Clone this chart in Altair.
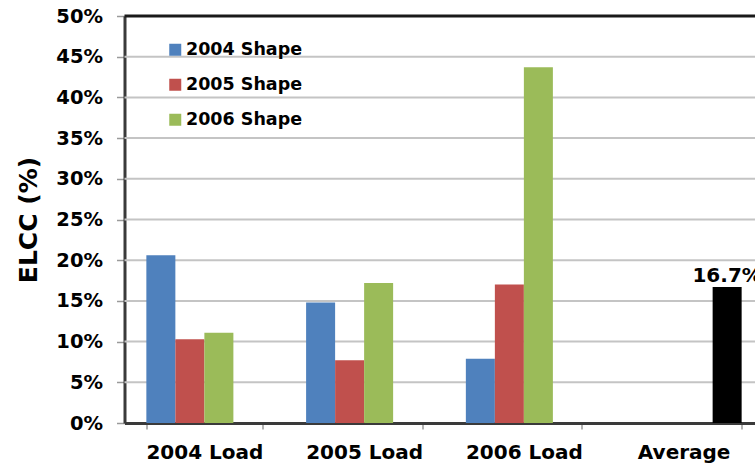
import altair as alt
import pandas as pd

# Categories and series
loads = ["2004 Load", "2005 Load", "2006 Load"]
shapes = ["2004 Shape", "2005 Shape", "2006 Shape"]
shape_2004 = [20.6, 14.8, 7.9]
shape_2005 = [10.3, 7.7, 17.0]
shape_2006 = [11.1, 17.2, 43.7]
average_value = 16.7
categories = loads + ["Average"]
series = shapes + ["Average"]
colors = ["#4F81BD", "#C0504D", "#9BBB59", "#000000"]
y_ticks = [0, 5, 10, 15, 20, 25, 30, 35, 40, 45, 50]

rows = []
for shape, vals in zip(shapes, [shape_2004, shape_2005, shape_2006]):
    for load, v in zip(loads, vals):
        rows.append({"load": load, "series": shape, "elcc": v})
rows.append({"load": "Average", "series": "Average", "elcc": average_value})
df = pd.DataFrame(rows)

FONT = "DejaVu Sans"

x_scale = alt.Scale(domain=categories, range=[0, 639],
                    paddingInner=0.2736, paddingOuter=0.1368)
xoff_scale = alt.Scale(domain=series, paddingInner=0, paddingOuter=0)
y_scale = alt.Scale(domain=[0, 50], nice=False)

y_axis = alt.Axis(
    title="ELCC (%)", titleFont=FONT, titleFontSize=25, titleFontWeight="bold",
    titleColor="#000000", titlePadding=14,
    values=y_ticks, labelExpr="datum.value + '%'",
    labelFont=FONT, labelFontSize=19.5, labelFontWeight="bold",
    labelColor="#000000", labelPadding=14,
    domainColor="#3a3a3a", domainWidth=3,
    tickColor="#9a9a9a", tickWidth=1.5, tickSize=8,
    grid=False,
)

# horizontal gridlines at each 5% step (the 50% one is the dark top border)
grid = alt.Chart(pd.DataFrame({"v": y_ticks[1:-1]})).mark_rule(
    color="#c4c4c4", strokeWidth=2
).encode(y=alt.Y("v:Q", scale=y_scale, axis=y_axis))

x_enc = alt.X(
    "load:N",
    sort=categories,
    scale=x_scale,
    axis=alt.Axis(
        title=None, labelFont=FONT, labelFontSize=20, labelFontWeight="bold",
        labelColor="#000000", labelPadding=13, labelAngle=0,
        domainColor="#3a3a3a", domainWidth=3, tickColor="#9a9a9a",
        tickWidth=1.5, tickSize=6, tickBand="extent", grid=False,
    ),
)
xoff_enc = alt.XOffset("series:N", sort=series, scale=xoff_scale)

bars = alt.Chart(df).mark_bar().encode(
    x=x_enc,
    xOffset=xoff_enc,
    y=alt.Y("elcc:Q", scale=y_scale, axis=y_axis),
    color=alt.Color(
        "series:N",
        scale=alt.Scale(domain=series, range=colors),
        legend=alt.Legend(
            title=None, values=shapes, orient="none", legendX=42, legendY=25,
            symbolType="square", symbolSize=144, symbolStrokeWidth=0,
            labelFont=FONT, labelFontSize=17.5, labelFontWeight="bold",
            labelColor="#000000", rowPadding=16, labelOffset=2, padding=0,
        ),
    ),
)

labels = alt.Chart(df).transform_filter(
    alt.datum.series == "Average"
).transform_calculate(
    label=alt.expr.format(alt.datum.elcc, ".1f") + "%"
).mark_text(
    font=FONT, fontSize=20, fontWeight="bold", color="#000000",
    baseline="alphabetic", dy=-5,
).encode(
    x=alt.X("load:N", sort=categories, scale=x_scale),
    xOffset=alt.XOffset("series:N", sort=series, scale=xoff_scale),
    y=alt.Y("elcc:Q", scale=y_scale),
    text="label:N",
)

top_border = alt.Chart(pd.DataFrame({"v": [50]})).mark_rule(
    color="#1a1a1a", strokeWidth=3
).encode(y=alt.Y("v:Q", scale=y_scale))

chart = alt.layer(grid, bars, labels, top_border).properties(
    width=630.5,
    height=407,
    autosize=alt.AutoSizeParams(type="none"),
    padding={"left": 124.5, "top": 16, "right": 0, "bottom": 46},
).configure_view(stroke=None).configure(background="#ffffff")

chart.save("out.html", embed_options={"renderer": "svg", "actions": False})
